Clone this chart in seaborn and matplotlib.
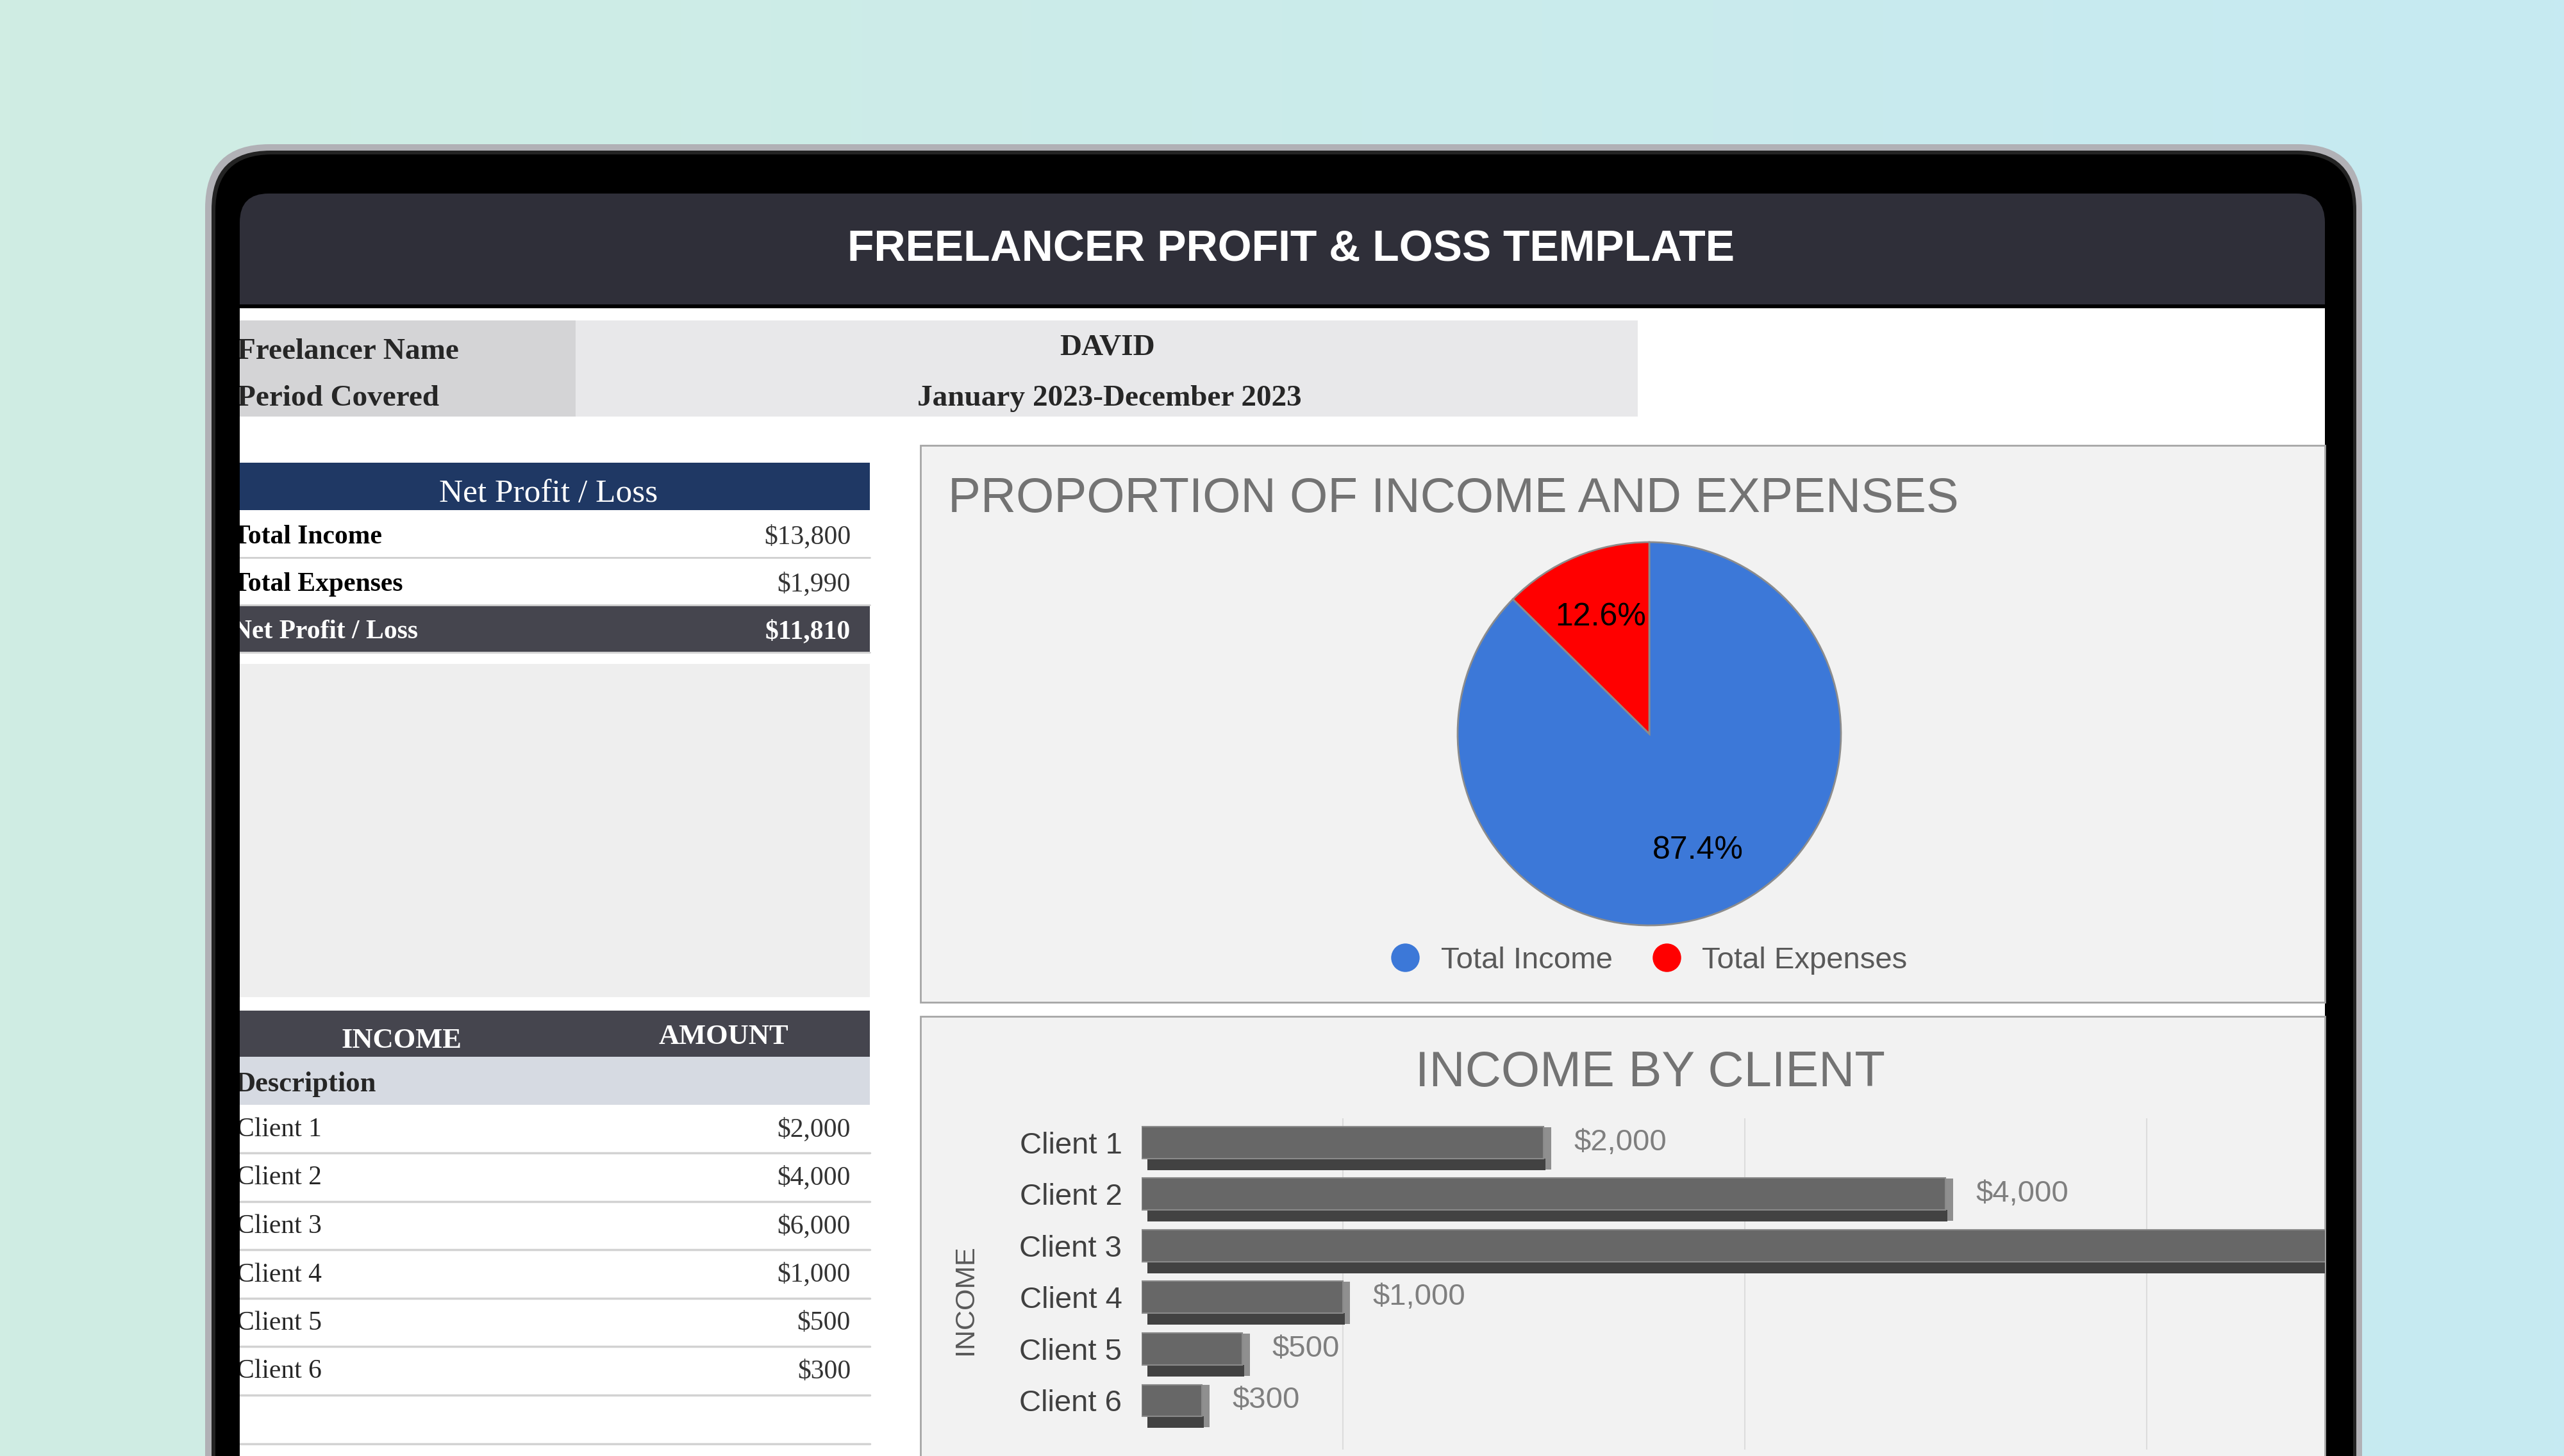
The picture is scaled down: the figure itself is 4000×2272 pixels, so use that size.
import numpy as np
import pandas as pd
import seaborn as sns
import matplotlib.pyplot as plt
from matplotlib.patches import Rectangle, FancyBboxPatch
from matplotlib.lines import Line2D

freelancer_name = "DAVID"
period_covered = "January 2023-December 2023"
summary_labels = ["Total Income", "Total Expenses", "Net Profit / Loss"]
summary_values = [13800, 1990, 11810]
pie_labels = ["Total Income", "Total Expenses"]
pie_values = [13800, 1990]
pie_colors = ["#3c78d8", "#ff0000"]
clients = ["Client 1", "Client 2", "Client 3", "Client 4", "Client 5", "Client 6"]
client_income = [2000, 4000, 6000, 1000, 500, 300]

sns.set_theme(style="white")
plt.rcParams['font.family'] = ['Liberation Sans', 'DejaVu Sans']
plt.rcParams['patch.force_edgecolor'] = False
SERIF = ['Liberation Serif', 'DejaVu Serif']

W, H = 4000, 2272
fig = plt.figure(figsize=(40, 22.72), dpi=100)


def px_rect(x, y, w, h):
    return [x / W, 1 - (y + h) / H, w / W, h / H]


bg = fig.add_axes([0, 0, 1, 1])
grad = np.linspace(0, 1, 256)[:, None]
c0 = np.array([0xd0, 0xed, 0xe3]) / 255
c1 = np.array([0xc6, 0xea, 0xf2]) / 255
bg.imshow((c0 + (c1 - c0) * grad)[None], extent=[0, W, H, 0], aspect='auto', zorder=0)
bg.set_xlim(0, W)
bg.set_ylim(H, 0)
bg.axis('off')


def rbox(x0, y0, x1, y1, r, color, z):
    bg.add_patch(FancyBboxPatch((x0, y0), x1 - x0, y1 - y0,
                                boxstyle=f"round,pad=0,rounding_size={r}",
                                fc=color, ec='none', zorder=z))


def rect(x0, y0, x1, y1, color, z=3, ec='none', lw=0):
    bg.add_patch(Rectangle((x0, y0), x1 - x0, y1 - y0, fc=color, ec=ec, lw=lw, zorder=z))


# tablet frame
rbox(320, 225, 3685, 2700, 100, '#b1b1b6', 1)
rbox(330, 235, 3676, 2700, 92, '#232323', 1.1)
rbox(336, 241, 3671, 2700, 88, '#000000', 1.2)
rbox(374, 302, 3627, 620, 45, '#2f2f39', 2)
rect(374, 475, 3627, 481, '#000000', 2.1)
rect(374, 481, 3627, 2400, '#ffffff', 2.2)

bg.text(2014, 407, "FREELANCER PROFIT & LOSS TEMPLATE", ha='center', va='baseline',
        fontsize=49, fontweight='bold', color='white', zorder=5)

# info block
rect(374, 500, 898, 650, '#d4d4d6')
rect(898, 500, 2555, 650, '#e8e8ea')
bg.text(370, 560, "Freelancer Name", family=SERIF, fontweight='bold', fontsize=34, va='baseline', zorder=5)
bg.text(370, 633, "Period Covered", family=SERIF, fontweight='bold', fontsize=34, va='baseline', zorder=5)
bg.text(1727, 553, freelancer_name, family=SERIF, fontweight='bold', fontsize=34, ha='center', va='baseline', zorder=5)
bg.text(1731, 633, period_covered, family=SERIF, fontweight='bold', fontsize=34, ha='center', va='baseline', zorder=5)

# net profit table
rect(374, 722, 1357, 796, '#1f3864')
bg.text(856, 783, "Net Profit / Loss", family=SERIF, fontsize=37, color='white', ha='center', va='baseline', zorder=5)
for i, (lab, val) in enumerate(zip(summary_labels, summary_values)):
    top = 796 + 74 * i
    last = i == len(summary_labels) - 1
    if last:
        rect(374, top, 1357, top + 73, '#45454e')
    bg.plot([374, 1357], [top + 74, top + 74], color='#cfcfcf', lw=2, zorder=4)
    col = 'white' if last else 'black'
    bg.text(363, top + 52, lab, family=SERIF, fontweight='bold', fontsize=30, color=col, va='baseline', zorder=5)
    bg.text(1327, top + 52, f"${val:,}", family=SERIF, fontsize=30, color='white' if last else '#333333',
            fontweight='bold' if last else 'normal', ha='right', va='baseline', zorder=5)
rect(374, 1036, 1357, 1556, '#eeeeee')

# income table
rect(374, 1577, 1357, 1649, '#45454e')
rect(374, 1649, 1357, 1724, '#d6dae2')
bg.text(626, 1635, "INCOME", family=SERIF, fontweight='bold', fontsize=32, color='white', ha='center', va='baseline', zorder=5)
bg.text(1129, 1629, "AMOUNT", family=SERIF, fontweight='bold', fontsize=32, color='white', ha='center', va='baseline', zorder=5)
bg.text(366, 1703, "Description", family=SERIF, fontweight='bold', fontsize=32, va='baseline', zorder=5)
for i, (c, v) in enumerate(zip(clients, client_income)):
    top = 1724 + 75.5 * i
    bg.text(369, top + 49, c, family=SERIF, fontsize=30, va='baseline', zorder=5)
    bg.text(1327, top + 49, f"${v:,}", family=SERIF, fontsize=30, color='#333333', ha='right', va='baseline', zorder=5)
    bg.plot([374, 1357], [top + 75, top + 75], color='#d2d2d2', lw=2.5, zorder=4)
bg.plot([374, 1357], [1724 + 75.5 * 7, 1724 + 75.5 * 7], color='#d2d2d2', lw=2.5, zorder=4)

# cover for text running under the left bezel
rect(336, 481, 374, 2400, '#000000', 30)

# chart panels
rect(1436, 695, 3627, 1564, '#f2f2f2', 3, ec='#a6a6a6', lw=2)
rect(1436, 1586, 3627, 2400, '#f2f2f2', 3, ec='#a6a6a6', lw=2)
bg.text(1479, 799, "PROPORTION OF INCOME AND EXPENSES", fontsize=55, color='#737373', va='baseline', zorder=5)
bg.text(2574, 1695, "INCOME BY CLIENT", fontsize=56, color='#737373', ha='center', va='baseline', zorder=5)

# pie chart
pax = fig.add_axes(px_rect(2271, 843, 604, 604))
pax.pie(pie_values, colors=pie_colors, startangle=90, counterclock=False,
        autopct='%.1f%%', pctdistance=0.66,
        wedgeprops=dict(edgecolor='#8c8c8c', linewidth=2),
        textprops=dict(fontsize=36, color='black'))
pax.set_xlim(-1.01, 1.01)
pax.set_ylim(-1.01, 1.01)
pax.set_aspect('equal')
pax.axis('off')

handles = [Line2D([], [], marker='o', ls='', markersize=32, markerfacecolor=c, markeredgecolor='none')
           for c in pie_colors]
fig.legend(handles, pie_labels, loc='center', bbox_to_anchor=(2572 / W, 1 - 1499 / H), ncol=2,
           frameon=False, fontsize=34, handlelength=1.0, handletextpad=0.67, columnspacing=1.28,
           labelcolor='#595959')

# bar chart with a faux 3D look
bax = fig.add_axes(px_rect(1781, 1745, 3627 - 1781, 2262 - 1745))
bax.set_facecolor('none')
df = pd.DataFrame({'client': clients, 'income': client_income})
pos = np.arange(len(clients))
vals = np.array(client_income)
# right side face and bottom face of each bar
bax.barh(pos + 0.11, np.full(len(vals), 40), left=vals - 2, height=0.82, color='#8f8f8f',
         edgecolor='none', zorder=2)
bax.barh(pos + 0.42, vals - 20, left=30, height=0.22, color='#424242', edgecolor='none', zorder=3)
sns.barplot(data=df, x='income', y='client', orient='h', color='#676767', width=0.62,
            saturation=1, edgecolor='#8a8a8a', linewidth=1.5, ax=bax, zorder=4)
for i, v in enumerate(client_income):
    bax.text(v + 150, i, f"${v:,}", va='center', fontsize=34, color='#7f7f7f', clip_on=True)
bax.set_xlim(0, 5888)
bax.set_ylim(5.95, -0.47)
bax.set_xticks([1000, 3000, 5000])
bax.xaxis.grid(True, color='#dcdcdc', lw=1.5)
bax.set_axisbelow(True)
bax.tick_params(axis='x', labelbottom=False, length=0)
bax.tick_params(axis='y', length=0, pad=22, labelsize=34, labelcolor='#404040')
for s in bax.spines.values():
    s.set_visible(False)
bax.set_xlabel('')
bax.set_ylabel('INCOME', fontsize=31, color='#595959')
bax.yaxis.set_label_coords(-0.138, 0.453)

fig.savefig('out.png', dpi=100)
